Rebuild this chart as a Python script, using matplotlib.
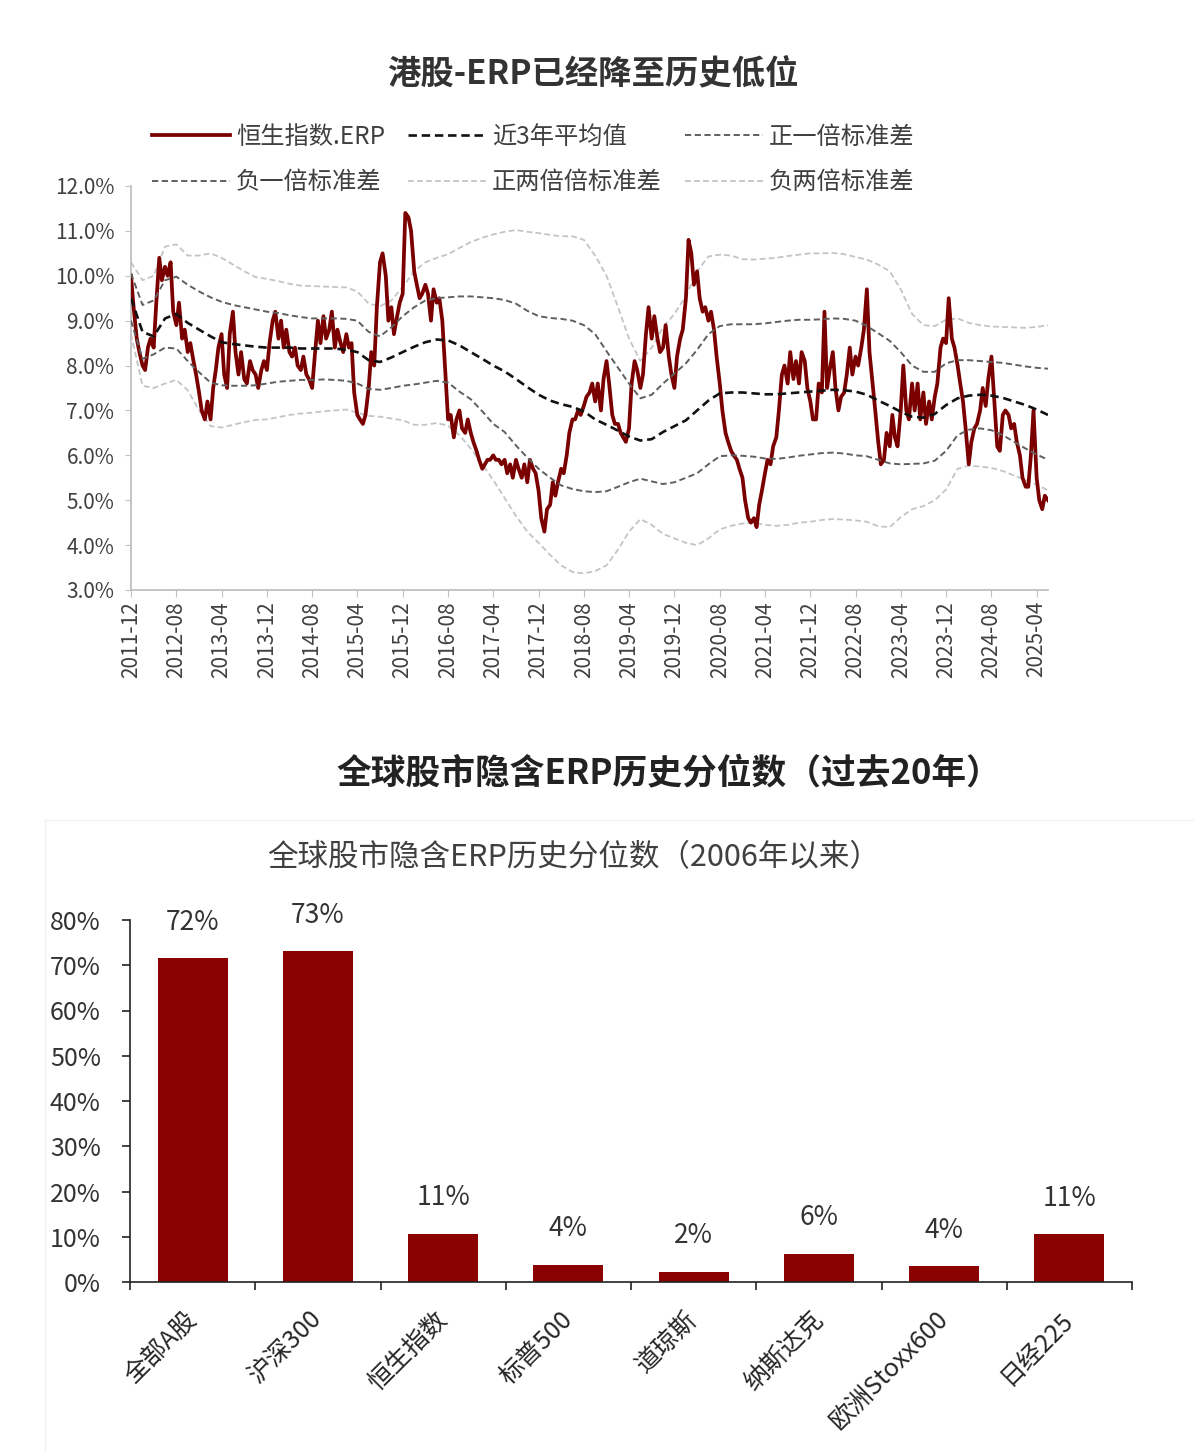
import math
import numpy as np
import pandas as pd
import matplotlib
matplotlib.use('Agg')
import matplotlib.pyplot as plt
from matplotlib.lines import Line2D
from matplotlib.ticker import FuncFormatter

plt.rcParams['font.family'] = ['Noto Sans CJK SC', 'DejaVu Sans']
plt.rcParams['axes.unicode_minus'] = False

# === 数据：恒生指数 ERP（半月一个点，%）===
erp_start = '2011-12-01'
erp = [
    10.0, 9.3, 8.6, 8.3, 8.0, 7.9, 8.4, 8.6, 8.4, 9.4,
    10.4, 9.9, 10.2, 10.0, 10.3, 9.2, 8.9, 9.4, 8.6, 8.8,
    8.3, 8.5, 8.1, 7.8, 7.4, 7.0, 6.8, 7.2, 6.8, 7.5,
    7.9, 8.4, 8.7, 7.8, 7.5, 8.7, 9.2, 8.3, 7.8, 8.3,
    7.7, 7.6, 8.1, 7.9, 7.8, 7.5, 7.9, 8.1, 7.9, 8.5,
    9.0, 9.2, 8.6, 9.0, 8.4, 8.8, 8.3, 8.2, 8.4, 8.0,
    7.9, 8.2, 7.8, 7.7, 7.5, 8.2, 9.0, 8.5, 9.1, 8.6,
    8.8, 9.2, 8.4, 8.8, 8.5, 8.3, 8.7, 8.4, 8.5, 7.4,
    6.9, 6.8, 6.7, 6.9, 7.5, 8.3, 8.0, 9.3, 10.3, 10.5,
    10.0, 9.0, 9.3, 8.7, 9.1, 9.4, 9.6, 11.4, 11.3, 11.0,
    10.1, 9.8, 9.5, 9.6, 9.8, 9.6, 9.0, 9.7, 9.4, 9.5,
    9.0, 8.0, 6.8, 6.9, 6.4, 6.8, 7.0, 6.6, 6.5, 6.8,
    6.5, 6.3, 6.1, 5.9, 5.7, 5.8, 5.9, 5.9, 6.0, 5.9,
    5.9, 5.8, 5.9, 5.6, 5.8, 5.5, 5.9, 5.7, 5.5, 5.8,
    5.4, 5.9, 5.7, 5.6, 5.2, 4.6, 4.3, 4.8, 4.9, 5.4,
    5.1, 5.4, 5.7, 5.6, 6.0, 6.5, 6.8, 6.8, 7.0, 6.9,
    7.1, 7.3, 7.4, 7.6, 7.2, 7.6, 7.0, 7.7, 8.1, 7.6,
    6.9, 6.7, 6.7, 6.5, 6.4, 6.3, 6.6, 7.6, 8.1, 7.9,
    7.5, 7.8, 8.7, 9.3, 8.6, 9.1, 8.6, 8.3, 8.4, 8.9,
    8.2, 7.8, 7.5, 8.2, 8.6, 8.8, 9.5, 10.8, 10.5, 9.8,
    10.1, 9.5, 9.2, 9.3, 9.0, 9.2, 8.8, 8.2, 7.6, 7.0,
    6.5, 6.3, 6.1, 6.0, 5.9, 5.7, 5.5, 5.0, 4.6, 4.5,
    4.6, 4.4, 4.9, 5.2, 5.6, 5.9, 5.8, 6.2, 6.4, 7.0,
    7.8, 8.0, 7.6, 8.3, 7.7, 8.1, 7.6, 8.3, 8.1, 7.5,
    7.2, 6.8, 6.8, 7.6, 7.4, 9.2, 7.5, 7.9, 8.3, 7.5,
    7.0, 7.3, 7.4, 7.8, 8.4, 7.8, 8.2, 8.0, 8.4, 8.8,
    9.7, 8.3, 7.6, 7.0, 6.3, 5.8, 5.9, 6.5, 6.2, 6.9,
    6.4, 6.2, 7.0, 8.0, 7.0, 6.8, 7.6, 7.0, 7.6, 6.8,
    7.4, 6.7, 7.2, 6.8, 7.3, 7.6, 8.4, 8.6, 8.5, 9.5,
    8.6, 8.4, 8.0, 7.6, 7.2, 6.6, 5.8, 6.3, 6.6, 6.7,
    7.0, 7.5, 7.1, 7.7, 8.2, 7.3, 6.2, 6.1, 6.9, 7.0,
    6.9, 6.6, 6.7, 6.3, 6.0, 5.5, 5.3, 5.3, 6.0, 7.0,
    5.5, 5.0, 4.8, 5.1, 5.0,
]

# === 均值与标准差带（每两个月一个点，%）===
band_start = '2011-12-01'
mean_3y = [
    9.5, 8.75, 8.65, 9.05, 9.15, 8.95, 8.8, 8.65, 8.52, 8.48,
    8.45, 8.42, 8.4, 8.4, 8.4, 8.38, 8.38, 8.38, 8.38, 8.35,
    8.3, 8.12, 8.08, 8.18, 8.3, 8.42, 8.52, 8.58, 8.56, 8.45,
    8.3, 8.15, 8.0, 7.87, 7.7, 7.52, 7.35, 7.22, 7.14, 7.08,
    6.98, 6.8, 6.68, 6.55, 6.42, 6.33, 6.36, 6.52, 6.65, 6.78,
    7.0, 7.22, 7.38, 7.4, 7.4, 7.38, 7.36, 7.36, 7.38, 7.4,
    7.42, 7.44, 7.46, 7.45, 7.42, 7.35, 7.22, 7.1, 6.97, 6.86,
    6.84, 6.92, 7.12, 7.27, 7.33, 7.35, 7.33, 7.28, 7.2, 7.12,
    7.02, 6.9,
]
plus_1sd = [
    10.05, 9.35, 9.45, 9.9, 9.98, 9.8, 9.65, 9.52, 9.42, 9.35,
    9.3, 9.25, 9.2, 9.17, 9.12, 9.08, 9.05, 9.05, 9.05, 9.04,
    9.0, 8.75, 8.65, 8.85, 9.1, 9.3, 9.45, 9.5, 9.52, 9.54,
    9.54, 9.52, 9.5, 9.46, 9.38, 9.22, 9.1, 9.06, 9.04, 9.0,
    8.9, 8.7, 8.32, 7.95, 7.6, 7.27, 7.35, 7.6, 7.82, 8.05,
    8.35, 8.7, 8.88, 8.92, 8.92, 8.92, 8.94, 8.97, 9.0, 9.02,
    9.02, 9.03, 9.05, 9.04, 9.0, 8.88, 8.72, 8.55, 8.3, 8.0,
    7.86, 7.86, 8.05, 8.12, 8.12, 8.1, 8.08, 8.06, 8.02, 7.98,
    7.95, 7.93,
]
minus_1sd = [
    9.0, 8.15, 8.25, 8.4, 8.38, 8.1, 7.85, 7.62, 7.56, 7.55,
    7.55, 7.56, 7.6, 7.64, 7.66, 7.68, 7.68, 7.69, 7.68, 7.66,
    7.6, 7.48, 7.46, 7.5, 7.55, 7.58, 7.62, 7.66, 7.62, 7.42,
    7.25, 6.98, 6.7, 6.52, 6.22, 5.95, 5.7, 5.5, 5.33, 5.25,
    5.2, 5.18, 5.2, 5.3, 5.4, 5.48, 5.42, 5.36, 5.4, 5.5,
    5.6, 5.8, 5.98, 6.0, 5.99, 5.97, 5.93, 5.92, 5.95, 5.99,
    6.02, 6.05, 6.06, 6.04, 6.0, 5.98, 5.9, 5.82, 5.8, 5.81,
    5.82, 5.88, 6.1, 6.45, 6.57, 6.6, 6.56, 6.45, 6.3, 6.15,
    6.02, 5.9,
]
plus_2sd = [
    10.3, 9.9, 10.0, 10.65, 10.7, 10.45, 10.45, 10.5, 10.4, 10.25,
    10.1, 9.97, 9.93, 9.88, 9.82, 9.78, 9.77, 9.76, 9.75, 9.74,
    9.65, 9.38, 9.32, 9.45, 9.75, 10.1, 10.3, 10.4, 10.48, 10.62,
    10.75, 10.85, 10.92, 10.98, 11.02, 10.98, 10.95, 10.91, 10.88, 10.88,
    10.8, 10.45, 10.0, 9.3, 8.6, 8.1, 8.4, 8.85, 9.15, 9.55,
    10.1, 10.43, 10.47, 10.45, 10.37, 10.36, 10.38, 10.4, 10.44, 10.47,
    10.5, 10.5, 10.51, 10.48, 10.42, 10.36, 10.25, 10.1, 9.7, 9.15,
    8.9, 8.88, 9.02, 9.05, 8.95, 8.9, 8.87, 8.86, 8.85, 8.84,
    8.86, 8.9,
]
minus_2sd = [
    8.7, 7.55, 7.5, 7.6, 7.68, 7.45, 7.0, 6.65, 6.62, 6.68,
    6.74, 6.79, 6.8, 6.85, 6.9, 6.93, 6.95, 6.98, 7.0, 7.02,
    6.95, 6.88, 6.86, 6.82, 6.78, 6.68, 6.68, 6.72, 6.66, 6.45,
    6.15, 5.8, 5.45, 5.05, 4.65, 4.3, 4.05, 3.78, 3.55, 3.4,
    3.37, 3.42, 3.55, 3.9, 4.3, 4.58, 4.45, 4.25, 4.15, 4.05,
    4.0, 4.15, 4.35, 4.43, 4.48, 4.5, 4.45, 4.43, 4.45, 4.5,
    4.52, 4.56, 4.58, 4.57, 4.55, 4.52, 4.42, 4.4, 4.62, 4.8,
    4.87, 5.0, 5.24, 5.7, 5.77, 5.75, 5.72, 5.65, 5.55, 5.45,
    5.35, 5.22,
]

# === 数据：全球股市隐含ERP历史分位数 ===
bar_names = ['全部A股', '沪深300', '恒生指数', '标普500', '道琼斯',
             '纳斯达克', '欧洲Stoxx600', '日经225']
bar_pct = [0.715, 0.731, 0.106, 0.038, 0.022, 0.062, 0.035, 0.105]

W, H = 1194, 1452
RED = '#7a0000'

fig = plt.figure(figsize=(W / 100, H / 100), dpi=100)
fig.patch.set_facecolor('white')


def fx(px):
    return px / W


def fy(py):
    return 1 - py / H


# === 上图：港股ERP ===
ax1 = fig.add_axes([fx(131), fy(590), fx(1048) - fx(131), fy(186) - fy(590)])

erp_dates = pd.date_range(erp_start, periods=len(erp), freq='SMS')
band_dates = pd.date_range(band_start, periods=len(mean_3y), freq='2MS')

l_erp, = ax1.plot(erp_dates, erp, color=RED, lw=2.7, zorder=3)
l_mean, = ax1.plot(band_dates, mean_3y, color='#111111', lw=1.9,
                   ls=(0, (3.2, 1.8)), zorder=4)
l_p1, = ax1.plot(band_dates, plus_1sd, color='#5f5f5f', lw=1.4,
                 ls=(0, (3.2, 1.8)), zorder=4)
l_m1, = ax1.plot(band_dates, minus_1sd, color='#5f5f5f', lw=1.4,
                 ls=(0, (3.2, 1.8)), zorder=4)
l_p2, = ax1.plot(band_dates, plus_2sd, color='#c4c4c4', lw=1.3,
                 ls=(0, (3.2, 1.8)), zorder=2)
l_m2, = ax1.plot(band_dates, minus_2sd, color='#c4c4c4', lw=1.3,
                 ls=(0, (3.2, 1.8)), zorder=2)

ax1.set_xlim(erp_dates[0], erp_dates[-1])
ax1.set_ylim(3, 12)
ax1.set_yticks(np.arange(3, 12.01, 1))
ax1.yaxis.set_major_formatter(FuncFormatter(lambda v, _: f'{v:.1f}%'))

xticks = pd.date_range('2011-12-01', '2025-04-01', freq='8MS')
ax1.set_xticks(xticks)
ax1.set_xticklabels([d.strftime('%Y-%m') for d in xticks], rotation=90)

for s in ['top', 'right']:
    ax1.spines[s].set_visible(False)
for s in ['left', 'bottom']:
    ax1.spines[s].set_color('#c0c0c0')
    ax1.spines[s].set_linewidth(1.3)
ax1.tick_params(axis='y', length=4, color='#c0c0c0', labelsize=15,
                labelcolor='#404040', pad=8)
ax1.tick_params(axis='x', length=5, color='#c0c0c0', labelsize=15,
                labelcolor='#404040', pad=3)

fig.text(fx(593), fy(75), '港股-ERP已经降至历史低位', ha='center', va='center',
         fontsize=24, fontweight='bold', color='#333333')

# 图例按列排：第一列 ERP/负一倍，第二列 均值/正两倍，第三列 正一倍/负两倍
handles = [l_erp, l_m1, l_mean, l_p2, l_p1, l_m2]
labels = ['恒生指数.ERP', '负一倍标准差', '近3年平均值', '正两倍倍标准差',
          '正一倍标准差', '负两倍标准差']
fig.legend(handles, labels, ncol=3, loc='upper left',
           bbox_to_anchor=(fx(152), fy(124)), frameon=False, fontsize=17.5,
           handlelength=3.2, handletextpad=0.25, columnspacing=0.95,
           labelspacing=0.8, borderpad=0, borderaxespad=0,
           labelcolor='#404040')

# === 下图：全球ERP分位数 ===
fig.add_artist(Line2D([fx(45), 1], [fy(820), fy(820)], color='#f2f2f2', lw=1))
fig.add_artist(Line2D([fx(45), fx(45)], [fy(820), 0], color='#f2f2f2', lw=1))

fig.text(fx(669), fy(773), '全球股市隐含ERP历史分位数（过去20年）', ha='center',
         va='center', fontsize=25, fontweight='bold', color='#222222')
fig.text(fx(574), fy(858), '全球股市隐含ERP历史分位数（2006年以来）', ha='center',
         va='center', fontsize=22, color='#404040')

ax2 = fig.add_axes([fx(130), fy(1282), fx(1132) - fx(130), fy(920) - fy(1282)])
x = np.arange(len(bar_names))
bars = ax2.bar(x, bar_pct, width=0.56, color='#8b0000', zorder=2)
for xi, v in zip(x, bar_pct):
    ax2.annotate(f'{math.floor(v * 100 + 0.5)}%', (xi, v), xytext=(0, 26),
                 textcoords='offset points', ha='center', va='center',
                 fontsize=19, color='#333333')

ax2.set_xlim(-0.5, len(bar_names) - 0.5)
ax2.set_ylim(0, 0.8)
ax2.set_yticks(np.arange(0, 0.81, 0.1))
ax2.yaxis.set_major_formatter(FuncFormatter(lambda v, _: f'{v * 100:.0f}%'))
ax2.set_xticks(x)
ax2.set_xticklabels(bar_names, rotation=45, ha='right', va='center',
                    rotation_mode='anchor')
ax2.set_xticks(np.arange(-0.5, len(bar_names), 1), minor=True)

for s in ['top', 'right']:
    ax2.spines[s].set_visible(False)
for s in ['left', 'bottom']:
    ax2.spines[s].set_color('#222222')
    ax2.spines[s].set_linewidth(1.2)
ax2.tick_params(axis='y', length=6, width=1.2, color='#222222', labelsize=18,
                labelcolor='#333333', pad=15)
ax2.tick_params(axis='x', which='major', length=0, labelsize=18,
                labelcolor='#262626', pad=24)
ax2.tick_params(axis='x', which='minor', length=6, width=1.2, color='#222222')

fig.savefig('out.png', dpi=100, facecolor='white')
